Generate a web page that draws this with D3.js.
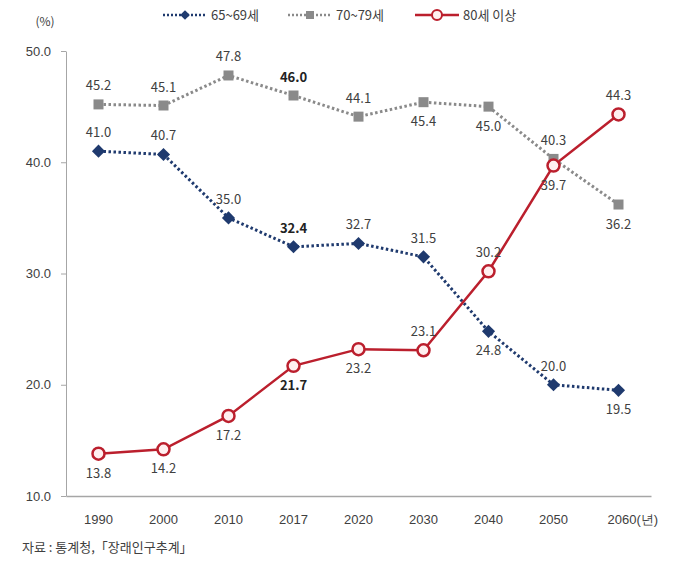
<!DOCTYPE html>
<html><head><meta charset="utf-8">
<script src="https://cdn.jsdelivr.net/npm/d3@7"></script>
<style>body{margin:0;background:#fff}svg{font-family:"Noto Sans CJK KR","Noto Sans",sans-serif}</style>
</head><body>
<svg id="c" width="682" height="562"></svg>
<script>
const years = ["1990","2000","2010","2017","2020","2030","2040","2050","2060"];
const s6569 = [41.0,40.7,35.0,32.4,32.7,31.5,24.8,20.0,19.5];
const s7079 = [45.2,45.1,47.8,46.0,44.1,45.4,45.0,40.3,36.2];
const s80 = [13.8,14.2,17.2,21.7,23.2,23.1,30.2,39.7,44.3];
const yTicks = [10,20,30,40,50];
const seriesNames = ["65~69세","70~79세","80세 이상"];
// label placement: 1 = above, -1 = below
const pos6569 = [1,1,1,1,1,1,-1,1,-1];
const pos7079 = [1,1,1,1,1,-1,-1,1,-1];
const pos80 = [-1,-1,-1,-1,-1,1,1,-1,1];
const boldIdx = 3;

const svg = d3.select("#c");
const x = d3.scaleBand().domain(years).range([66,651]);
const y = d3.scaleLinear().domain([10,50]).range([496,51]);
const cx = d => x(d)+x.bandwidth()/2;
const txt = "#404040";

// axes
const ya = svg.append("g").attr("transform","translate(66,0)")
  .call(d3.axisLeft(y).tickValues(yTicks).tickFormat(d3.format(".1f")).tickSize(5).tickSizeOuter(0));
ya.select(".domain").attr("stroke","#a6a6a6");
ya.selectAll(".tick line").attr("stroke","#a6a6a6");
ya.selectAll(".tick text").attr("fill",txt).attr("font-size",13).attr("x",-15);
const xa = svg.append("g").attr("transform","translate(0,496)")
  .call(d3.axisBottom(x).tickSize(0).tickSizeOuter(0).tickFormat((d,i)=> i===years.length-1 ? d+"(년)" : d));
xa.select(".domain").attr("stroke","#a6a6a6").attr("stroke-width",1.5);
xa.selectAll(".tick text").attr("fill",txt).attr("font-size",13).attr("dy","1.9em");
xa.selectAll(".tick").filter((d,i)=>i===years.length-1).select("text").attr("dx","1.1em");

svg.append("text").attr("x",45).attr("y",26).attr("fill",txt).attr("font-size",12).attr("text-anchor","middle").text("(%)");

const line = d3.line().x((d,i)=>cx(years[i])).y(d=>y(d));

const C1="#1f3a6e", C2="#8a8a8a", C3="#bb1f2d";
svg.append("path").datum(s7079).attr("d",line).attr("fill","none").attr("stroke",C2).attr("stroke-width",3).attr("stroke-dasharray","2.5,2.5");
svg.append("path").datum(s6569).attr("d",line).attr("fill","none").attr("stroke",C1).attr("stroke-width",3).attr("stroke-dasharray","2.5,2.5");
svg.append("path").datum(s80).attr("d",line).attr("fill","none").attr("stroke",C3).attr("stroke-width",2.5);

const sym = d3.symbol();
svg.selectAll(".m2").data(s7079).join("rect").attr("x",(d,i)=>cx(years[i])-5).attr("y",d=>y(d)-5).attr("width",10).attr("height",10).attr("fill",C2);
svg.selectAll(".m1").data(s6569).join("path").attr("d",sym.type(d3.symbolDiamond2).size(110)()).attr("transform",(d,i)=>`translate(${cx(years[i])},${y(d)})`).attr("fill",C1);
svg.selectAll(".m3").data(s80).join("circle").attr("cx",(d,i)=>cx(years[i])).attr("cy",d=>y(d)).attr("r",6).attr("fill","#fff0f0").attr("stroke",C3).attr("stroke-width",2.5);

function labels(data,p){
  svg.append("g").selectAll("text").data(data).join("text")
    .attr("x",(d,i)=>cx(years[i])).attr("y",(d,i)=>y(d)+(p[i]>0?-14:24))
    .attr("text-anchor","middle").attr("font-size",13)
    .attr("font-weight",(d,i)=>i===boldIdx?"bold":"normal")
    .attr("fill",(d,i)=>i===boldIdx?"#222":txt)
    .text(d=>d.toFixed(1));
}
labels(s6569,pos6569);labels(s7079,pos7079);labels(s80,pos80);

// legend
const lg = svg.append("g");
const items=[{x:163,c:C1},{x:288,c:C2},{x:415,c:C3}];
items.forEach((it,i)=>{
  const g=lg.append("g").attr("transform",`translate(${it.x},15)`);
  if(i<2) g.append("line").attr("x1",0).attr("x2",44).attr("stroke",it.c).attr("stroke-width",2.5).attr("stroke-dasharray","2,2");
  else g.append("line").attr("x1",0).attr("x2",44).attr("stroke",it.c).attr("stroke-width",2.5);
  if(i===0) g.append("path").attr("d",d3.symbol().type(d3.symbolDiamond2).size(60)()).attr("transform","translate(22,0)").attr("fill",it.c);
  if(i===1) g.append("rect").attr("x",18).attr("y",-4).attr("width",8).attr("height",8).attr("fill",it.c);
  if(i===2) g.append("circle").attr("cx",22).attr("cy",0).attr("r",5).attr("fill","#fff0f0").attr("stroke",it.c).attr("stroke-width",2);
  g.append("text").attr("x",48).attr("y",5).attr("font-size",13).attr("fill",txt).text(seriesNames[i]);
});

svg.append("text").attr("x",22).attr("y",552).attr("font-size",13).attr("fill",txt).text("자료 : 통계청,「장래인구추계」");
</script>
</body></html>
